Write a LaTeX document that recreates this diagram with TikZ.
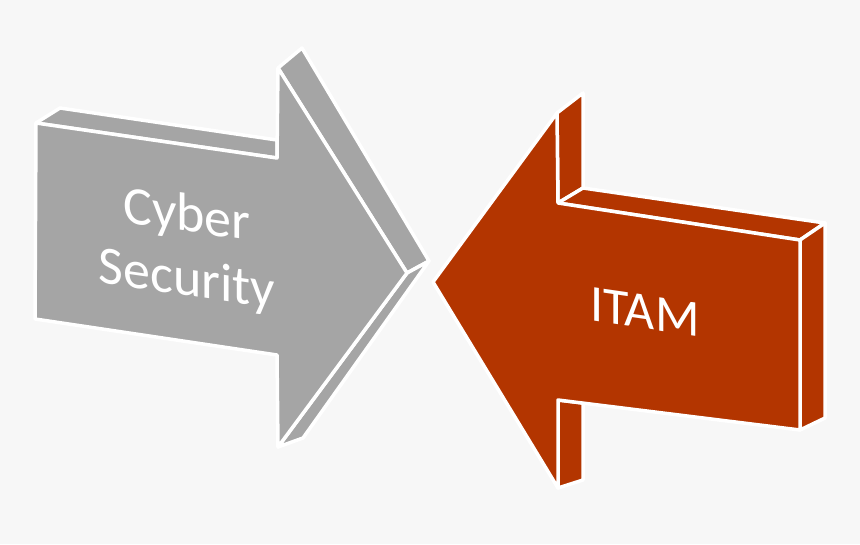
\documentclass[tikz,border=0pt]{standalone}
\usepackage{fontspec}
\setmainfont{Carlito}
\usepackage{xcolor}
\usetikzlibrary{calc}
\definecolor{bgcol}{HTML}{F7F7F7}
\definecolor{cybergray}{HTML}{A5A5A5}
\definecolor{itamred}{HTML}{B33500}
\tikzset{
  % facce delle frecce
  face/.style={line width=3.5pt,draw=white,line join=round},
  face gray/.style={face,fill=cybergray},
  face red/.style={face,fill=itamred},
  % testo
  label text/.style={text=white,font=\fontsize{54}{64}\selectfont,align=center,yslant=-0.145,inner sep=0}
}
\begin{document}
\begin{tikzpicture}[x=1pt,y=-1pt]
  \fill[bgcol] (0,0) rectangle (860,544);
  \useasboundingbox (0,0) rectangle (860,544);
  % freccia grigia, fronte
  \coordinate (g1) at (36,123);  \coordinate (g2) at (277,158);
  \coordinate (g3) at (278,68);  \coordinate (g4) at (407,273);
  \coordinate (g5) at (278,447); \coordinate (g6) at (277,355);
  \coordinate (g7) at (35,319);
  % freccia grigia, retro
  \coordinate (gb1) at (60,108); \coordinate (gb2) at (277,140);
  \coordinate (gb3) at (302,48); \coordinate (gb4) at (429,261);
  \coordinate (gb5) at (303,438);
  \filldraw[face gray] (g1) -- (gb1) -- (gb2) -- (g2) -- cycle;
  \filldraw[face gray] (g3) -- (gb3) -- (gb4) -- (g4) -- cycle;
  \filldraw[face gray] (g4) -- (gb4) -- (gb5) -- (g5) -- cycle;
  \filldraw[face gray] (g1) -- (g2) -- (g3) -- (g4) -- (g5) -- (g6) -- (g7) -- cycle;
  \node[label text] (cyber) at (187,249) {Cyber\\Security};
  % freccia rossa, fronte
  \coordinate (r1) at (433,282); \coordinate (r2) at (557,113);
  \coordinate (r3) at (558,203); \coordinate (r4) at (800,240);
  \coordinate (r5) at (800,430); \coordinate (r6) at (558,400);
  \coordinate (r7) at (558,488);
  % freccia rossa, retro
  \coordinate (rb2) at (583,93);  \coordinate (rb3) at (583,188);
  \coordinate (rb4) at (825,223); \coordinate (rb5) at (825,418);
  \coordinate (rb6) at (583,403); \coordinate (rb7) at (583,480);
  \filldraw[face red] (r2) -- (rb2) -- (rb3) -- (r3) -- cycle;
  \filldraw[face red] (r3) -- (rb3) -- (rb4) -- (r4) -- cycle;
  \filldraw[face red] (r4) -- (rb4) -- (rb5) -- (r5) -- cycle;
  \filldraw[face red] (r6) -- (rb6) -- (rb7) -- (r7) -- cycle;
  \filldraw[face red] (r1) -- (r2) -- (r3) -- (r4) -- (r5) -- (r6) -- (r7) -- cycle;
  \node[label text,font=\fontsize{52}{64}\selectfont] (itam) at (645,312) {ITAM};
\end{tikzpicture}
\end{document}
